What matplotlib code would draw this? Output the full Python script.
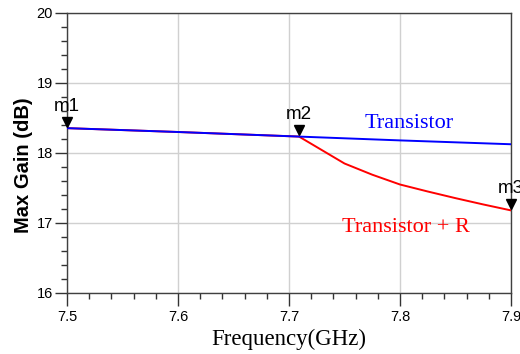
import matplotlib
matplotlib.use('Agg')
import matplotlib.pyplot as plt
from matplotlib.ticker import MultipleLocator
from matplotlib.transforms import offset_copy

# Данные кривых
freq_t = [7.50, 7.60, 7.70, 7.80, 7.90]
gain_t = [18.355, 18.30, 18.24, 18.18, 18.125]

freq_r = [7.50, 7.60, 7.70, 7.709, 7.75, 7.775, 7.80, 7.825, 7.85,
          7.875, 7.90]
gain_r = [18.355, 18.30, 18.24, 18.235, 17.85, 17.69, 17.55, 17.45,
          17.355, 17.265, 17.18]

# Маркеры
mk_names = ['m1', 'm2', 'm3']
mk_freq = [7.50, 7.709, 7.90]
mk_gain = [18.355, 18.235, 17.18]

fig = plt.figure(figsize=(5.2, 3.54), dpi=100)
ax = fig.add_axes([67 / 520, 1 - 293 / 354, 444 / 520, 280 / 354])

ax.plot(freq_r, gain_r, color='#ff0000', lw=1.4, zorder=3)
ax.plot(freq_t, gain_t, color='#0000ff', lw=1.4, zorder=4)

tr = offset_copy(ax.transData, fig=fig, y=4.5, units='points')
ax.plot(mk_freq, mk_gain, 'v', color='black', ms=7.5, transform=tr,
        clip_on=False, zorder=5)
for name, f, g in zip(mk_names, mk_freq, mk_gain):
    ax.annotate(name, (f, g), xytext=(0, 9.5), textcoords='offset points',
                ha='center', va='bottom', fontsize=13.5,
                family='Liberation Sans', annotation_clip=False)

ax.text(7.808, 18.357, 'Transistor', color='#0000ff', ha='center',
        va='baseline', fontsize=16, family='Liberation Serif')
ax.text(7.805, 16.87, 'Transistor + R', color='#ff0000', ha='center',
        va='baseline', fontsize=16, family='Liberation Serif')

ax.set_xlim(7.5, 7.9)
ax.set_ylim(16, 20)
ax.xaxis.set_major_locator(MultipleLocator(0.1))
ax.xaxis.set_minor_locator(MultipleLocator(0.02))
ax.yaxis.set_major_locator(MultipleLocator(1))
ax.yaxis.set_minor_locator(MultipleLocator(0.2))
ax.tick_params(which='major', length=9, width=1, color='#333333',
               labelsize=10.5)
ax.tick_params(which='minor', length=4.5, width=1, color='#333333')
ax.tick_params(axis='y', which='major', pad=1)
ax.tick_params(axis='x', which='major', pad=3)
for lab in ax.get_xticklabels() + ax.get_yticklabels():
    lab.set_family('Liberation Sans')

ax.grid(True, which='major', color='#d0d0d0', lw=1)
for sp in ax.spines.values():
    sp.set_color('#404040')
    sp.set_linewidth(1)

ax.set_xlabel('Frequency(GHz)', fontsize=16.5, family='Liberation Serif',
              labelpad=4)
ax.set_ylabel('Max Gain (dB)', fontsize=14.5, fontweight='bold',
              family='Liberation Sans')
ax.yaxis.set_label_coords(-0.077, 0.455)

fig.savefig('out.png', dpi=100)
